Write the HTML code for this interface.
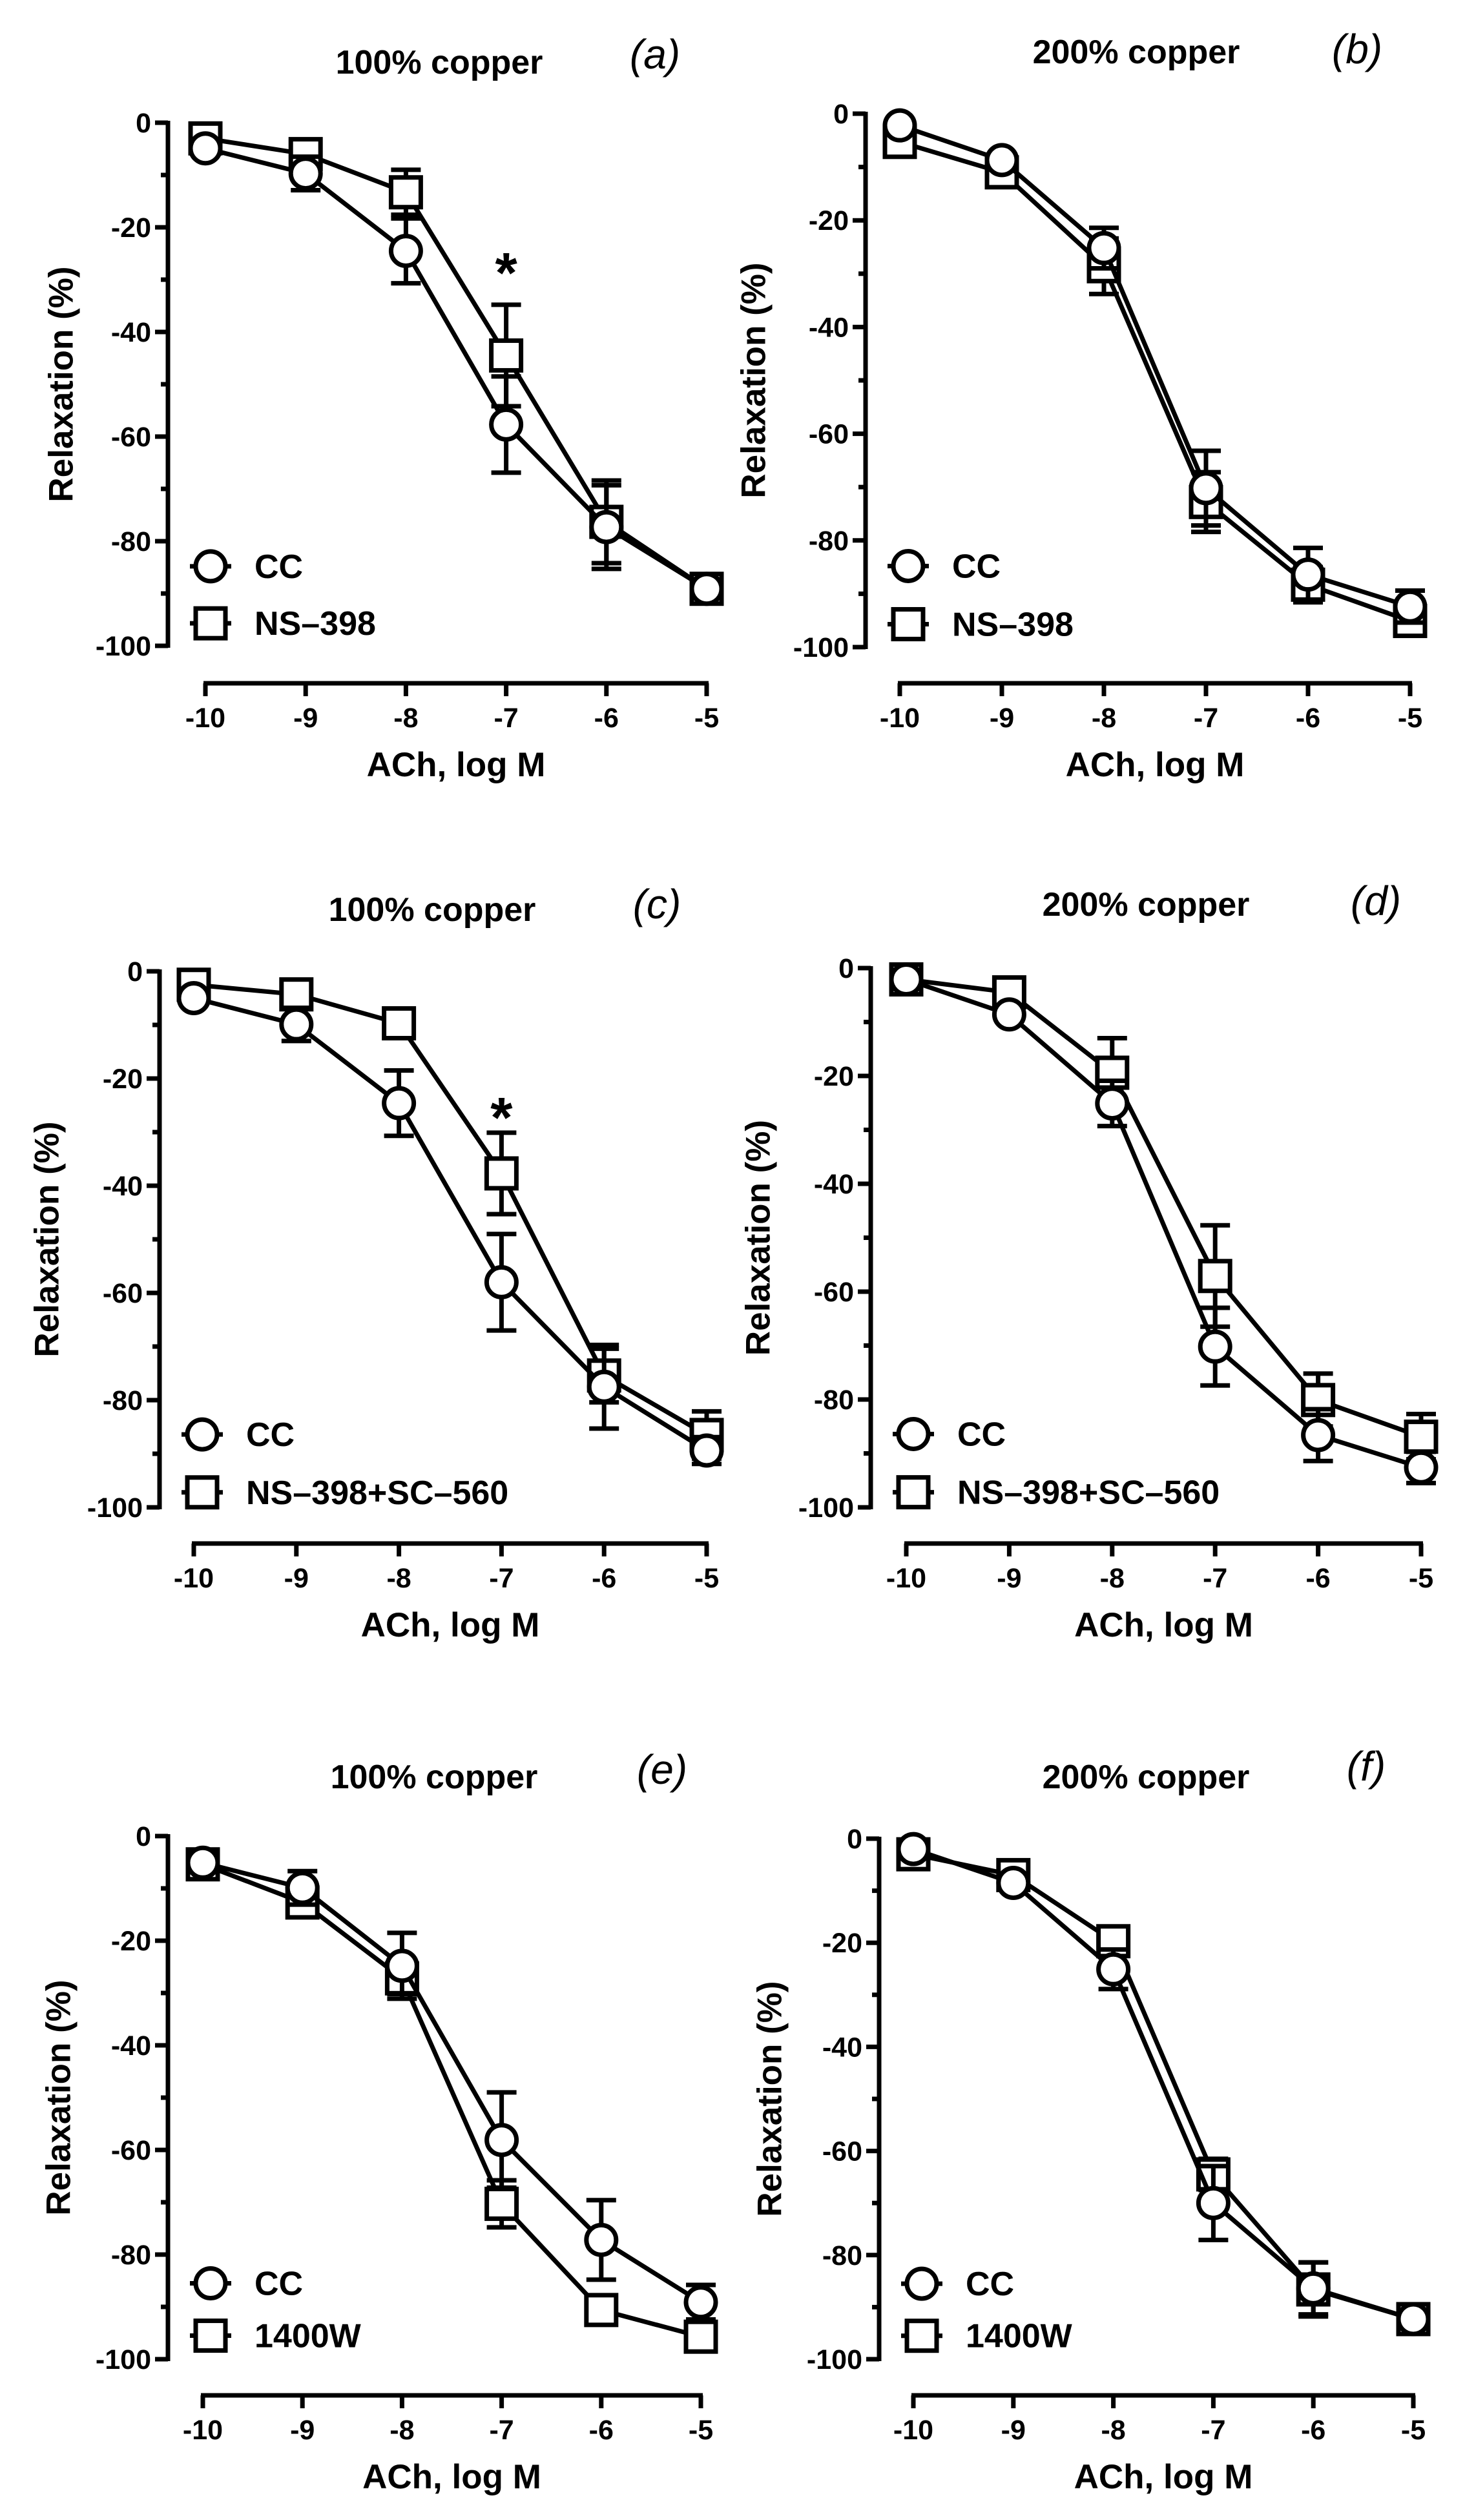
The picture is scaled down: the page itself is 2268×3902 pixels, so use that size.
<!DOCTYPE html>
<html><head><meta charset="utf-8"><style>
html,body{margin:0;padding:0;background:#fff}
svg text{font-family:"Liberation Sans",Arial,sans-serif;fill:#000}
</style></head><body>
<svg id="fig" width="2268" height="3897" viewBox="0 0 2268 3897" xmlns="http://www.w3.org/2000/svg">
<rect width="2268" height="3897" fill="#fff"/>
</svg>
<script>
const doses = [-10, -9, -8, -7, -6, -5];
const yTicks = [0, -20, -40, -60, -80, -100];
const xTickLabels = ["-10", "-9", "-8", "-7", "-6", "-5"];

const ccA = [-4.9, -9.7, -24.5, -57.7, -77.3, -89.1];
const ccErrA = [0, 3.2, 6.2, 9.2, 8, 1.5];
const trA = [-3, -6, -13.3, -44.5, -76.3, -89.1];
const trErrA = [0, 0, 4.3, 9.7, 7.9, 1.5];

const ccB = [-2.2, -8.7, -25.2, -70.2, -86.4, -92.4];
const ccErrB = [0, 0, 3.8, 7, 5, 3];
const trB = [-5.3, -11, -28.6, -72.8, -88.3, -95.1];
const trErrB = [0, 0, 5.2, 5.6, 3.3, 0];

const ccC = [-5, -9.9, -24.6, -58, -77.5, -89.4];
const ccErrC = [0, 3.1, 6.1, 9, 7.8, 2.5];
const trC = [-2.5, -4.3, -9.7, -37.7, -75.4, -86.5];
const trErrC = [0, 0, 0, 7.6, 5, 4.4];

const ccD = [-2.1, -8.6, -25.1, -70.2, -86.6, -92.6];
const ccErrD = [0, 0, 4.2, 7.2, 4.8, 2.9];
const trD = [-2.1, -4.5, -19.4, -57.1, -80.1, -86.9];
const trErrD = [0, 0, 6.4, 9.4, 4.9, 4.2];

const ccE = [-5.1, -9.9, -24.8, -58.1, -77.2, -89.1];
const ccErrE = [0, 3.2, 6.3, 9.1, 7.6, 3.3];
const trE = [-5.4, -12.7, -27.2, -70.3, -90.6, -95.7];
const trErrE = [0, 2, 3, 4.5, 2, 1.5];

const ccF = [-2, -8.5, -25.1, -70, -86.4, -92.3];
const ccErrF = [0, 0, 3.8, 7.1, 5, 1.5];
const trF = [-3, -7, -19.7, -64.5, -86.6, -92.3];
const trErrF = [0, 0, 2.5, 3, 5.2, 1];

const NS = "http://www.w3.org/2000/svg";
const svg = document.getElementById('fig');
function el(tag, attrs, parent, text) {
  const e = document.createElementNS(NS, tag);
  for (const k in attrs) e.setAttribute(k, attrs[k]);
  if (text !== undefined) e.textContent = text;
  (parent || svg).appendChild(e);
  return e;
}

const panels = [
  {id:'a', title:'100% copper', treat:'NS\u2013398', cc:ccA, ccErr:ccErrA, tr:trA, trErr:trErrA, yax:260, x0:318, x1:1094, y0:190, y1:1000, xax:1058, tx:680, ty:96, lx:1014, ly:84, ylx:95, star:-27, legC:0.848, legS:0.957},
  {id:'b', title:'200% copper', treat:'NS\u2013398', cc:ccB, ccErr:ccErrB, tr:trB, trErr:trErrB, yax:1340, x0:1393, x1:2183, y0:176, y1:1002, xax:1058, tx:1759, ty:80, lx:2101, ly:76, ylx:1167, star:null, legC:0.848, legS:0.957},
  {id:'c', title:'100% copper', treat:'NS\u2013398+SC\u2013560', cc:ccC, ccErr:ccErrC, tr:trC, trErr:trErrC, yax:247, x0:300, x1:1094, y0:1504, y1:2334, xax:2390, tx:669, ty:1408, lx:1017, ly:1400, ylx:73, star:-25.6, legC:0.864, legS:0.972},
  {id:'d', title:'200% copper', treat:'NS\u2013398+SC\u2013560', cc:ccD, ccErr:ccErrD, tr:trD, trErr:trErrD, yax:1348, x0:1403, x1:2200, y0:1499, y1:2334, xax:2390, tx:1774, ty:1400, lx:2130, ly:1395, ylx:1174, star:null, legC:0.864, legS:0.972},
  {id:'e', title:'100% copper', treat:'1400W', cc:ccE, ccErr:ccErrE, tr:trE, trErr:trErrE, yax:260, x0:314, x1:1085, y0:2843, y1:3653, xax:3709, tx:672, ty:2751, lx:1025, ly:2740, ylx:91, star:null, legC:0.855, legS:0.955},
  {id:'f', title:'200% copper', treat:'1400W', cc:ccF, ccErr:ccErrF, tr:trF, trErr:trErrF, yax:1361, x0:1414, x1:2188, y0:2847, y1:3653, xax:3709, tx:1774, ty:2751, lx:2115, ly:2735, ylx:1192, star:null, legC:0.855, legS:0.955}
];

panels.forEach(p => {
  const g = el('g', {});
  
  
  const X = v => p.x0 + (v - doses[0]) / (doses[doses.length-1] - doses[0]) * (p.x1 - p.x0);
  const Y = v => p.y0 + (0 - v) / 100 * (p.y1 - p.y0);

  const t = el('text', {x:p.tx, y:p.ty + 18, 'font-size':52, 'font-weight':'bold', 'text-anchor':'middle'}, g, p.title);
  
  
  const pl = el('text', {x:p.lx, y:p.ly + 22, 'font-size':64, 'font-style':'italic', 'text-anchor':'middle'}, g, '(' + p.id + ')');
  
  

  const ya = el('g', {stroke:'#000', 'stroke-width':7, fill:'none'}, g);
  
  
  el('line', {x1:p.yax, y1:Y(0)-3, x2:p.yax, y2:Y(-100)+3}, ya);
  for (let v = 0; v >= -100; v -= 10) {
    const major = v % 20 === 0;
    el('line', {x1:p.yax - (major ? 20 : 11), y1:Y(v), x2:p.yax, y2:Y(v)}, ya);
  }
  yTicks.forEach(v => {
    const tl = el('text', {x:p.yax - 26, y:Y(v) + 15, 'font-size':43, 'font-weight':'bold', 'text-anchor':'end'}, g, String(v));
    
    
  });
  const yt = el('text', {x:p.ylx, y:(Y(0)+Y(-100))/2, 'font-size':53, 'font-weight':'bold', 'text-anchor':'middle', 'dominant-baseline':'central', transform:'rotate(-90 ' + p.ylx + ' ' + (Y(0)+Y(-100))/2 + ')'}, g, 'Relaxation (%)');
  
  

  const xa = el('g', {stroke:'#000', 'stroke-width':7, fill:'none'}, g);
  
  
  el('line', {x1:X(doses[0])-3, y1:p.xax, x2:X(doses[5])+3, y2:p.xax}, xa);
  doses.forEach((d, i) => {
    el('line', {x1:X(d), y1:p.xax, x2:X(d), y2:p.xax + 20}, xa);
    const xl = el('text', {x:X(d), y:p.xax + 68, 'font-size':43, 'font-weight':'bold', 'text-anchor':'middle'}, g, xTickLabels[i]);
    
    
  });
  const xt = el('text', {x:(X(doses[0])+X(doses[5]))/2, y:p.xax + 144, 'font-size':53, 'font-weight':'bold', 'text-anchor':'middle'}, g, 'ACh, log M');
  
  

  function drawSeries(vals, errs, name) {
    const sg = el('g', {}, g);
    
    
    el('polyline', {points: doses.map((d,i) => X(d) + ',' + Y(vals[i])).join(' '), fill:'none', stroke:'#000', 'stroke-width':7}, sg);
    doses.forEach((d, i) => {
      if (errs[i] > 0) {
        const eb = el('g', {stroke:'#000', 'stroke-width':7}, sg);
        
        
        const cx = X(d), yt2 = Y(vals[i] + errs[i]), yb = Y(vals[i] - errs[i]);
        el('line', {x1:cx, y1:yt2, x2:cx, y2:yb}, eb);
        el('line', {x1:cx-23, y1:yt2, x2:cx+23, y2:yt2}, eb);
        el('line', {x1:cx-23, y1:yb, x2:cx+23, y2:yb}, eb);
      }
    });
    return sg;
  }
  function marker(parent, kind, cx, cy) {
    if (kind === 'circle') return el('circle', {cx:cx, cy:cy, r:23, fill:'#fff', stroke:'#000', 'stroke-width':7}, parent);
    return el('rect', {x:cx-23, y:cy-23, width:46, height:46, fill:'#fff', stroke:'#000', 'stroke-width':7}, parent);
  }
  const sTr = drawSeries(p.tr, p.trErr, 'series-treatment');
  const sCc = drawSeries(p.cc, p.ccErr, 'series-cc');
  doses.forEach((d, i) => {
    const m = marker(sTr, 'square', X(d), Y(p.tr[i]));
    
    
  });
  doses.forEach((d, i) => {
    const m = marker(sCc, 'circle', X(d), Y(p.cc[i]));
    
    
  });

  if (p.star !== null) {
    const st = el('text', {x:X(-7), y:Y(p.star) + 44, 'font-size':88, 'font-weight':'bold', 'text-anchor':'middle'}, g, '*');
    
    
  }

  const lg = el('g', {}, g);
  
  
  const lx = p.yax + 66;
  const lyC = p.y0 + p.legC * (p.y1 - p.y0);
  const lyS = p.y0 + p.legS * (p.y1 - p.y0);
  const e1 = el('g', {}, lg);
  
  
  el('line', {x1:lx-32, y1:lyC, x2:lx+32, y2:lyC, stroke:'#000', 'stroke-width':7}, e1);
  marker(e1, 'circle', lx, lyC);
  el('text', {x:lx + 68, y:lyC + 18, 'font-size':52, 'font-weight':'bold'}, e1, 'CC');
  const e2 = el('g', {}, lg);
  
  
  el('line', {x1:lx-32, y1:lyS, x2:lx+32, y2:lyS, stroke:'#000', 'stroke-width':7}, e2);
  marker(e2, 'square', lx, lyS);
  el('text', {x:lx + 68, y:lyS + 18, 'font-size':52, 'font-weight':'bold'}, e2, p.treat);
});
</script>
</body></html>
